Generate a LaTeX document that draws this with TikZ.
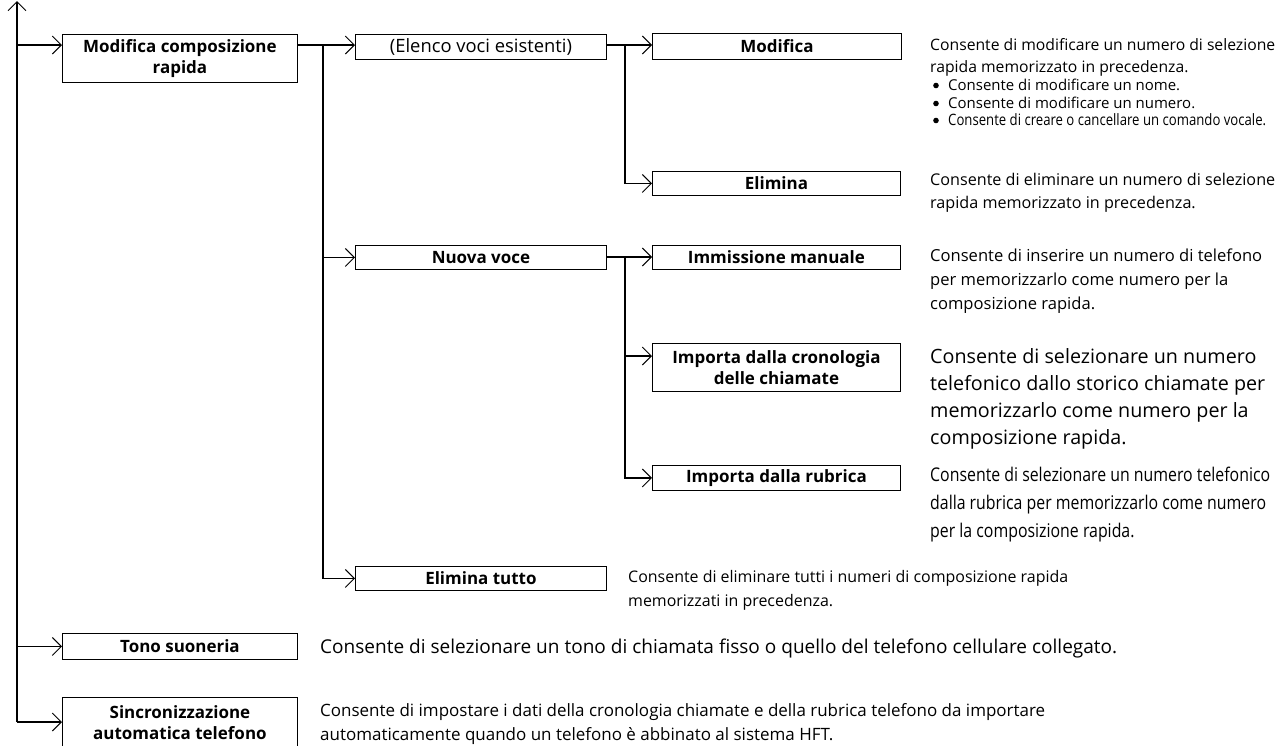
\documentclass[tikz,border=0pt]{standalone}
\usepackage{fontspec}
\setmainfont{Open Sans}
\newfontfamily\condfont[FakeStretch=0.84]{Open Sans}
\usetikzlibrary{arrows.meta}
% compute a font size so that sample text #4 (in font #2) is #3 pt wide
\newcommand\calcfs[4]{%
  \setbox0=\hbox{\normalfont#2\fontsize{10}{12}\selectfont #4}%
  \pgfmathsetmacro\calctmp{10*#3/\the\wd0}%
  \global\let#1\calctmp}
\tikzset{
  box/.style={draw, line width=0.9pt, anchor=north west, inner sep=0pt, align=center,
    font=\bfseries\fontsize{\fsBox}{21}\selectfont},
  arr/.style={line width=1.8pt, -{Straight Barb[length=9pt,width=18pt,line width=1pt]}},
  txt/.style={anchor=base west, inner sep=0pt},
  dot/.style={fill=black},
}
\begin{document}
\calcfs{\fsBox}{\bfseries}{177}{Immissione manuale}%
\calcfs{\fsReg}{}{182}{(Elenco voci esistenti)}%
\calcfs{\fsA}{}{345}{Consente di modificare un numero di selezione}%
\calcfs{\fsBul}{}{232}{Consente di modificare un nome.}%
\calcfs{\fsBulc}{\condfont}{318}{Consente di creare o cancellare un comando vocale.}%
\calcfs{\fsB}{}{345}{Consente di eliminare un numero di selezione}%
\calcfs{\fsC}{}{332}{Consente di inserire un numero di telefono}%
\calcfs{\fsD}{}{335}{telefonico dallo storico chiamate per}%
\calcfs{\fsE}{\condfont}{340}{Consente di selezionare un numero telefonico}%
\calcfs{\fsF}{}{440}{Consente di eliminare tutti i numeri di composizione rapida}%
\calcfs{\fsG}{}{797}{Consente di selezionare un tono di chiamata fisso o quello del telefono cellulare collegato.}%
\calcfs{\fsH}{}{725}{Consente di impostare i dati della cronologia chiamate e della rubrica telefono da importare}%
\begin{tikzpicture}[x=1pt,y=-1pt]
\clip (0,0) rectangle (1278,745);
\fill[white] (0,0) rectangle (1278,745);
% boxes
\node[box, minimum width=235pt, minimum height=48pt] (b1) at (62,34) {Modifica composizione\\rapida};
\node[box, minimum width=251pt, minimum height=25pt, font=\fontsize{\fsReg}{21}\selectfont] (b2) at (355,34) {(Elenco voci esistenti)};
\node[box, minimum width=249pt, minimum height=26pt] (b3) at (652,33) {Modifica};
\node[box, minimum width=248pt, minimum height=24pt] (b4) at (652,171) {Elimina};
\node[box, minimum width=251pt, minimum height=24pt] (b5) at (355,245) {Nuova voce};
\node[box, minimum width=248pt, minimum height=24pt] (b6) at (652,245) {Immissione manuale};
\node[box, minimum width=248pt, minimum height=48pt] (b7) at (652,343) {Importa dalla cronologia\\delle chiamate};
\node[box, minimum width=248pt, minimum height=25pt] (b8) at (652,465) {Importa dalla rubrica};
\node[box, minimum width=251pt, minimum height=24pt] (b9) at (355,566) {Elimina tutto};
\node[box, minimum width=235pt, minimum height=26pt] (b10) at (62,633) {Tono suoneria};
\node[box, minimum width=235pt, minimum height=50pt] (b11) at (62,697) {Sincronizzazione\\automatica telefono};
% trunk
\coordinate (ttop) at (17,1);
\coordinate (t1) at (17,45);
\coordinate (tend) at (17,722);
\draw[arr] (tend) -- (ttop);
\draw[arr] (t1) -- (t1 -| b1.west);
\draw[arr] (tend |- b10.west) -- (b10.west);
\draw[arr] (tend) -- (tend -| b11.west);
% level 2
\coordinate (j1) at (323,45);
\draw[arr] (b1.east |- j1) -- (j1 -| b2.west);
\draw[arr] (j1) |- (b9.west);
\draw[arr] (j1 |- b5.west) -- (b5.west);
% level 3 upper
\coordinate (j2) at (625,45);
\draw[arr] (b2.east |- j2) -- (j2 -| b3.west);
\draw[arr] (j2) |- (b4.west);
% level 3 lower
\coordinate (j3) at (625,257);
\draw[arr] (b5.east |- j3) -- (j3 -| b6.west);
\draw[arr] (j3) |- (b8.west);
\coordinate (k7) at (625,356);
\draw[arr] (k7) -- (k7 -| b7.west);
% descriptions
\begin{scope}[every node/.append style={txt}]
\node[font=\fontsize{\fsA}{20}\selectfont] (d3a) at (930,50) {Consente di modificare un numero di selezione};
\node[font=\fontsize{\fsA}{20}\selectfont] (d3b) at (930,72) {rapida memorizzato in precedenza.};
\node[font=\fontsize{\fsBul}{16}\selectfont] (d3c) at (948,90) {Consente di modificare un nome.};
\node[font=\fontsize{\fsBul}{16}\selectfont] (d3d) at (948,108) {Consente di modificare un numero.};
\node[font=\condfont\fontsize{\fsBulc}{16}\selectfont] (d3e) at (948,125) {Consente di creare o cancellare un comando vocale.};
\node[font=\fontsize{\fsB}{20}\selectfont] (d4a) at (930,185) {Consente di eliminare un numero di selezione};
\node[font=\fontsize{\fsB}{20}\selectfont] (d4b) at (930,208) {rapida memorizzato in precedenza.};
\node[font=\fontsize{\fsC}{20}\selectfont] (d6a) at (930,261) {Consente di inserire un numero di telefono};
\node[font=\fontsize{\fsC}{20}\selectfont] (d6b) at (930,285) {per memorizzarlo come numero per la};
\node[font=\fontsize{\fsC}{20}\selectfont] (d6c) at (930,309) {composizione rapida.};
\node[font=\fontsize{\fsD}{20}\selectfont] (d7a) at (930,363) {Consente di selezionare un numero};
\node[font=\fontsize{\fsD}{20}\selectfont] (d7b) at (930,390) {telefonico dallo storico chiamate per};
\node[font=\fontsize{\fsD}{20}\selectfont] (d7c) at (930,417) {memorizzarlo come numero per la};
\node[font=\fontsize{\fsD}{20}\selectfont] (d7d) at (930,444) {composizione rapida.};
\node[font=\condfont\fontsize{\fsE}{20}\selectfont] (d8a) at (930,481) {Consente di selezionare un numero telefonico};
\node[font=\condfont\fontsize{\fsE}{20}\selectfont] (d8b) at (930,509) {dalla rubrica per memorizzarlo come numero};
\node[font=\condfont\fontsize{\fsE}{20}\selectfont] (d8c) at (930,537) {per la composizione rapida.};
\node[font=\fontsize{\fsF}{20}\selectfont] (d9a) at (628,582) {Consente di eliminare tutti i numeri di composizione rapida};
\node[font=\fontsize{\fsF}{20}\selectfont] (d9b) at (628,606) {memorizzati in precedenza.};
\node[font=\fontsize{\fsG}{20}\selectfont] (d10a) at (320,653) {Consente di selezionare un tono di chiamata fisso o quello del telefono cellulare collegato.};
\node[font=\fontsize{\fsH}{20}\selectfont] (d11a) at (320,716) {Consente di impostare i dati della cronologia chiamate e della rubrica telefono da importare};
\node[font=\fontsize{\fsH}{20}\selectfont] (d11b) at (320,740) {automaticamente quando un telefono è abbinato al sistema HFT.};
\end{scope}
% bullets
\fill[dot] ([shift={(-12,-4.5)}]d3c.base west) circle (2.8);
\fill[dot] ([shift={(-12,-4.5)}]d3d.base west) circle (2.8);
\fill[dot] ([shift={(-12,-4.5)}]d3e.base west) circle (2.8);
\end{tikzpicture}
\end{document}
